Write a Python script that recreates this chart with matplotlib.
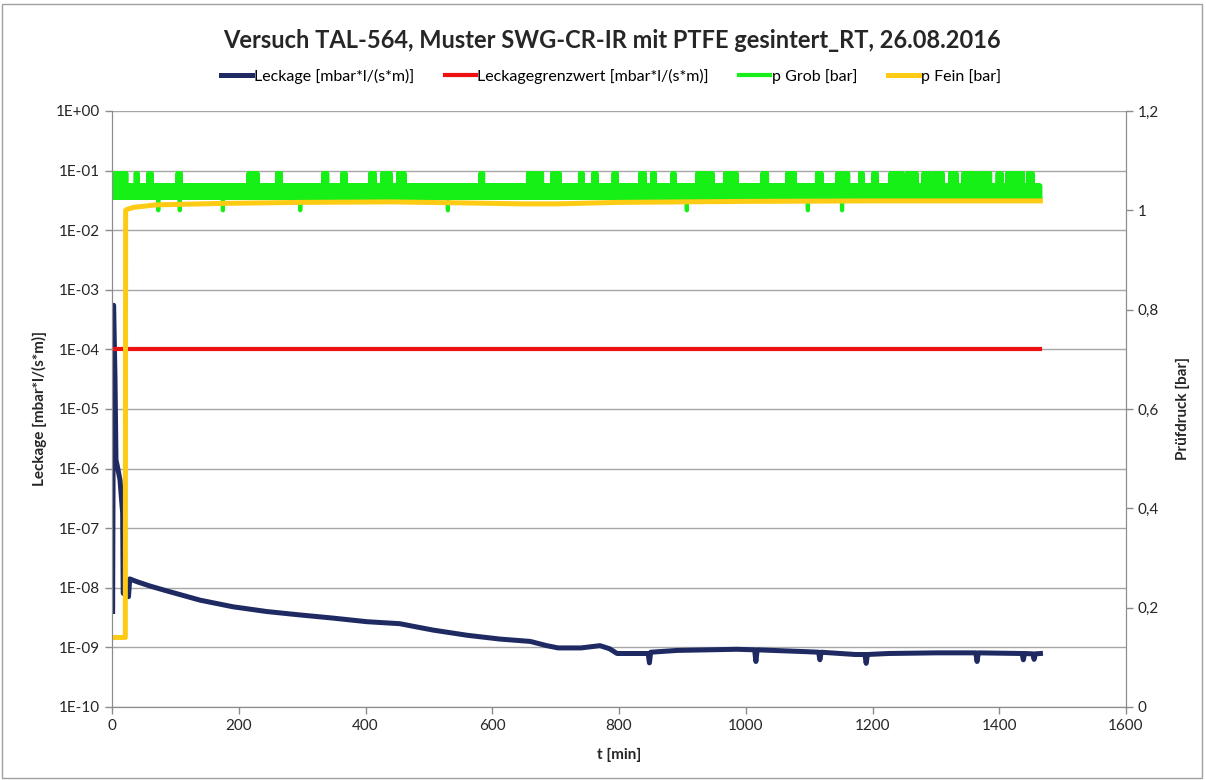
import matplotlib
matplotlib.use("Agg")
import matplotlib.pyplot as plt
import numpy as np
from matplotlib.ticker import FixedLocator, NullLocator, FuncFormatter
from matplotlib.patches import Rectangle

plt.rcParams['font.family'] = ['Lato', 'DejaVu Sans']

# Leckage [mbar*l/(s*m)]
leck_t = [1.0, 2.5, 4.7, 6.3, 8.4, 12.6, 16.8, 17.7, 22, 26, 28, 40, 60, 86, 139, 191,
          244, 297, 349, 402, 454, 481, 507, 560, 612, 660, 686, 704, 740, 770, 785,
          797, 846, 848, 850, 892, 986, 1014, 1016, 1018, 1093, 1115, 1117, 1119, 1173,
          1188, 1190, 1192, 1225, 1300, 1363, 1365, 1367, 1436, 1438, 1440, 1453, 1455,
          1457, 1465]
leck_v = [4.0e-9, 5.5e-4, 3.5e-5, 1.4e-6, 1.1e-6, 6.5e-7, 1.8e-7, 8.1e-9, 7.6e-9, 7.1e-9,
          1.41e-8, 1.26e-8, 1.07e-8, 8.9e-9, 6.2e-9, 4.8e-9, 4.0e-9, 3.5e-9, 3.1e-9,
          2.7e-9, 2.5e-9, 2.2e-9, 1.95e-9, 1.6e-9, 1.38e-9, 1.26e-9, 1.07e-9, 9.8e-10,
          9.8e-10, 1.07e-9, 9.5e-10, 7.9e-10, 7.9e-10, 5.5e-10, 8.3e-10, 8.9e-10, 9.3e-10,
          9.1e-10, 5.8e-10, 9.1e-10, 8.5e-10, 8.3e-10, 6.2e-10, 8.3e-10, 7.6e-10, 7.6e-10,
          5.4e-10, 7.6e-10, 7.9e-10, 8.1e-10, 8.1e-10, 5.8e-10, 8.1e-10, 7.9e-10, 6.2e-10,
          7.9e-10, 7.8e-10, 6.3e-10, 7.8e-10, 7.9e-10]

# Leckagegrenzwert
grenz_t = [0, 1465]
grenz_v = [1e-4, 1e-4]

# p Fein [bar]
fein_t = [0, 21, 21.5, 24, 34, 70, 176, 300, 439, 550, 650, 700, 800, 1000, 1200, 1465]
fein_p = [0.14, 0.14, 1.0, 1.002, 1.006, 1.011, 1.014, 1.016, 1.017, 1.015, 1.013, 1.013,
          1.016, 1.018, 1.019, 1.019]

# p Grob [bar]: sensor toggles between two steps, with short excursions up / down
grob_step = 0.5
grob_end = 1465
grob_levels = [1.025, 1.05]
grob_high = 1.075
grob_low = 1.0
grob_spikes = [(0, 23), (37, 41), (57, 63), (103, 109), (215, 230), (260, 267), (333, 340),
               (363, 369), (407, 415), (426, 440), (451, 462), (581, 586), (656, 679),
               (694, 707), (738, 743), (759, 765), (791, 797), (833, 841), (852, 857),
               (884, 888), (923, 936), (940, 948), (967, 986), (1026, 1034), (1065, 1078),
               (1112, 1120), (1144, 1149), (1154, 1162), (1180, 1185), (1201, 1207),
               (1228, 1248), (1254, 1270), (1280, 1291), (1296, 1311), (1322, 1333),
               (1343, 1365), (1370, 1386), (1397, 1404), (1412, 1438), (1445, 1453)]
grob_dips = [73, 107, 175, 297, 530, 907, 1098, 1152]

grob_t = np.arange(0, grob_end + grob_step, grob_step)
grob_p = np.array([grob_levels[i % 2] for i in range(len(grob_t))])
for a, b in grob_spikes:
    m = (grob_t >= a) & (grob_t <= b) & (np.arange(len(grob_t)) % 2 == 1)
    grob_p[m] = grob_high
for d in grob_dips:
    grob_p[np.argmin(np.abs(grob_t - d))] = grob_low

x_ticks = [0, 200, 400, 600, 800, 1000, 1200, 1400, 1600]
y_exps = [-10, -9, -8, -7, -6, -5, -4, -3, -2, -1, 0]
p_ticks = [0, 0.2, 0.4, 0.6, 0.8, 1.0, 1.2]

c_leck = '#1f2a63'
c_grenz = '#ee1111'
c_grob = '#16f016'
c_fein = '#fdcb14'
c_axis = '#8c8c8c'
c_text = '#262626'

fig = plt.figure(figsize=(12.06, 7.8), dpi=100)
fig.patches.append(Rectangle((0.002, 0.003), 0.995, 0.992, transform=fig.transFigure,
                             fill=False, edgecolor='#a0a0a0', linewidth=1))

ax = fig.add_axes([112 / 1206, 73 / 780, 1014 / 1206, 596 / 780])
ax.set_yscale('log')
l1, = ax.plot(leck_t, leck_v, color=c_leck, lw=3.6, solid_joinstyle='round',
              label='Leckage [mbar*l/(s*m)]')
l2, = ax.plot(grenz_t, grenz_v, color=c_grenz, lw=3.0, label='Leckagegrenzwert [mbar*l/(s*m)]')
ax.set_xlim(0, 1600)
ax.set_ylim(1e-10, 1)
ax.yaxis.set_major_locator(FixedLocator([10.0 ** e for e in y_exps]))
ax.yaxis.set_minor_locator(NullLocator())
ax.yaxis.set_major_formatter(FuncFormatter(lambda v, p: "1E%+03d" % int(round(np.log10(v)))))
ax.set_xticks(x_ticks)
ax.grid(axis='y', color='#a6a6a6', lw=1)
ax.set_axisbelow(True)

ax2 = ax.twinx()
l3, = ax2.plot(grob_t, grob_p, color=c_grob, lw=3.0, label='p Grob [bar]')
l4, = ax2.plot(fein_t, fein_p, color=c_fein, lw=3.6, label='p Fein [bar]')
ax2.set_ylim(0, 1.2)
ax2.set_yticks(p_ticks)
ax2.yaxis.set_major_formatter(FuncFormatter(lambda v, p: ("%g" % round(v, 1)).replace('.', ',')))

for a in (ax, ax2):
    for s in a.spines.values():
        s.set_color(c_axis)
    a.spines['top'].set_visible(False)
    a.tick_params(colors=c_axis, labelcolor=c_text, labelsize=11, length=5, width=1)

ax.set_xlabel('t [min]', fontsize=11, fontweight='bold', color=c_text)
ax.xaxis.set_label_coords(0.5, -0.068)
ax.set_ylabel('Leckage [mbar*l/(s*m)]', fontsize=11, fontweight='bold', color=c_text)
ax.yaxis.set_label_coords(-0.064, 0.5)
ax2.set_ylabel('Prüfdruck [bar]', fontsize=11, fontweight='bold', color=c_text)
ax2.yaxis.set_label_coords(1.049, 0.5)

fig.text(0.507, 1 - 40 / 780, 'Versuch TAL-564, Muster SWG-CR-IR mit PTFE gesintert_RT, 26.08.2016',
         ha='center', va='center', fontsize=17, fontweight='bold', color=c_text)
fig.legend(handles=[l1, l2, l3, l4], loc='center', bbox_to_anchor=(611 / 1206, 1 - 76 / 780),
           ncol=4, frameon=False, fontsize=11.5, handlelength=1.95, handletextpad=0.1,
           columnspacing=1.9)

fig.savefig('out.png', dpi=100)
